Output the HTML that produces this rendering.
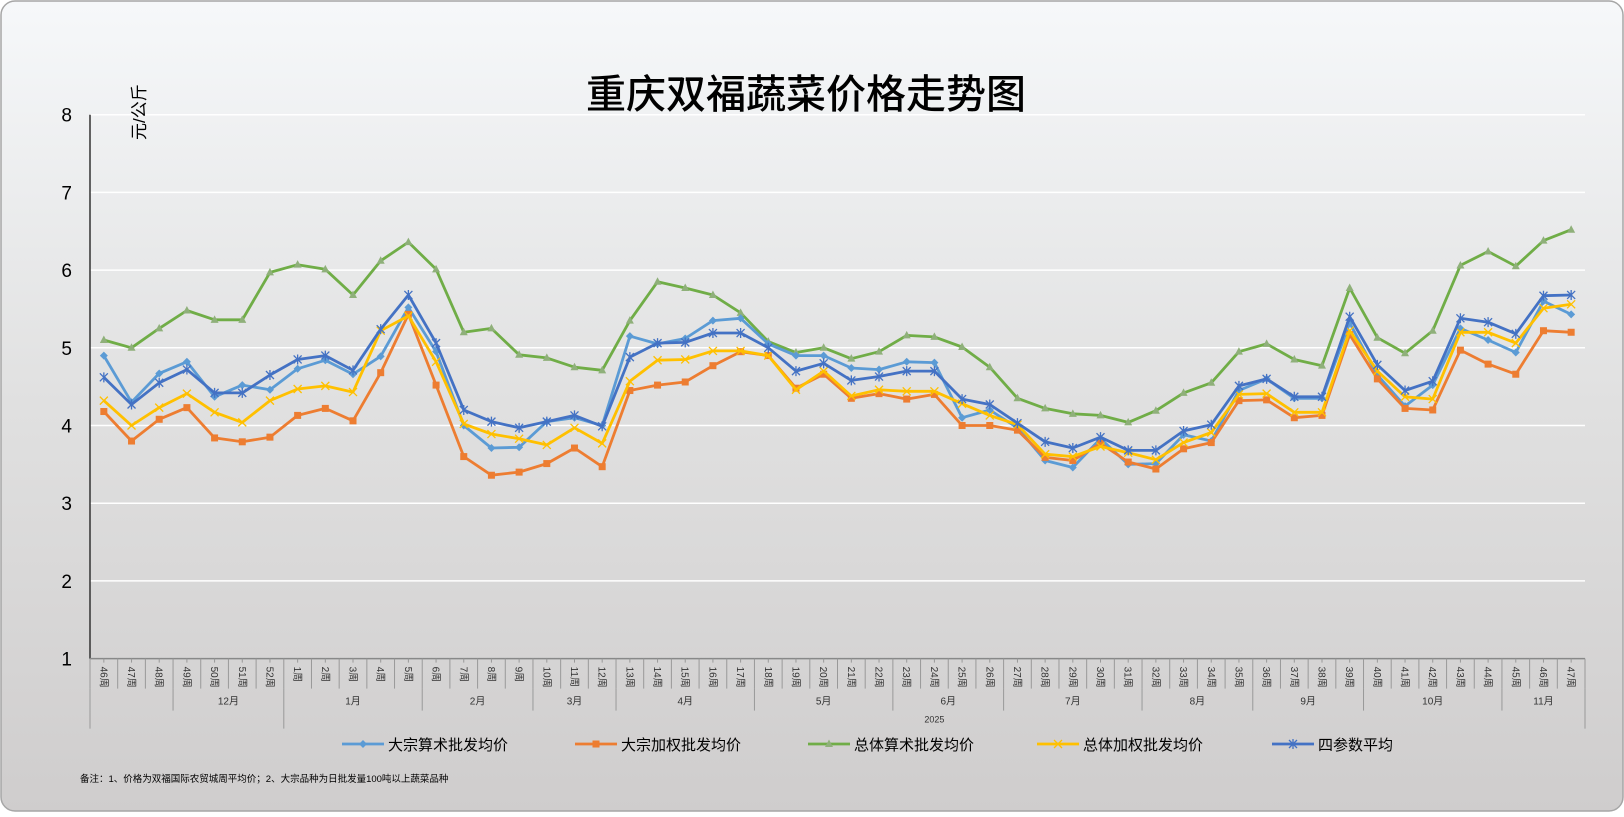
<!DOCTYPE html>
<html><head><meta charset="utf-8"><style>
html,body{margin:0;padding:0;background:#fff;}
body{width:1624px;height:812px;overflow:hidden;}
text{font-family:"Liberation Sans","Noto Sans CJK SC",sans-serif;}
</style></head><body>
<svg id="s" width="1624" height="812" xmlns="http://www.w3.org/2000/svg">
<defs><linearGradient id="bg" x1="0" y1="0" x2="0" y2="1">
<stop offset="0" stop-color="#f6f8fa"/><stop offset="0.5" stop-color="#e0e0e0"/><stop offset="1" stop-color="#cfcdcd"/></linearGradient></defs>
<rect x="1" y="1" width="1622" height="810" rx="14" fill="url(#bg)" stroke="#a6a6a6" stroke-width="1.5"/>
<text x="806" y="108" font-size="40" text-anchor="middle" fill="#000" style="font-family:'Noto Sans CJK SC',sans-serif;font-weight:500">重庆双福蔬菜价格走势图</text>
<g id="g"></g>
</svg>
<script>
var L=90,R=1585,N=54,S=(R-L)/N,Y8=114.7,U=77.7;
function X(i){return L+S*(i+0.5);}function Y(v){return Y8+(8-v)*U;}
var h='';
for(var v=1;v<=8;v++){ if(v>1)h+='<line x1="'+L+'" x2="'+R+'" y1="'+Y(v)+'" y2="'+Y(v)+'" stroke="#fff" stroke-width="1.5"/>';
 h+='<text x="72" y="'+(Y(v)+7)+'" font-size="19" text-anchor="end">'+v+'</text>';}
h+='<line x1="'+L+'" x2="'+L+'" y1="'+Y8+'" y2="'+Y(1)+'" stroke="#333" stroke-width="1.5"/>';
h+='<line x1="'+L+'" x2="'+R+'" y1="'+Y(1)+'" y2="'+Y(1)+'" stroke="#888" stroke-width="1.5"/>';
h+='<text transform="translate(145,140) rotate(-90)" font-size="17">元/公斤</text>';
var wk=[];for(var i=46;i<=52;i++)wk.push(i);for(var i=1;i<=47;i++)wk.push(i);
var ay=Y(1);
for(var i=0;i<=N;i++){var x=L+S*i;h+='<line x1="'+x+'" x2="'+x+'" y1="'+ay+'" y2="'+(ay+30)+'" stroke="#999" stroke-width="1"/>';}
for(var i=0;i<N;i++){h+='<line x1="'+X(i)+'" x2="'+X(i)+'" y1="'+ay+'" y2="'+(ay+4)+'" stroke="#999"/>';
 h+='<text transform="translate('+(X(i)-3.5)+','+(ay+8)+') rotate(90)" font-size="10" fill="#333">'+wk[i]+'周</text>';}
var mb=[0,3,7,12,16,19,24,29,33,38,42,46,51,54],mn=['','12月','1月','2月','3月','4月','5月','6月','7月','8月','9月','10月','11月'];
for(var k=0;k<mb.length;k++){var x=L+S*mb[k];var long=(k==0||k==2||k==13);
 h+='<line x1="'+x+'" x2="'+x+'" y1="'+(ay+30)+'" y2="'+(ay+(long?70:52))+'" stroke="#999"/>';
 if(k<13&&mn[k])h+='<text x="'+(L+S*(mb[k]+mb[k+1])/2)+'" y="'+(ay+46)+'" font-size="10" text-anchor="middle" fill="#333">'+mn[k]+'</text>';}
h+='<text x="'+(L+S*30.5)+'" y="'+(ay+64)+'" font-size="9" text-anchor="middle" fill="#333">2025</text>';
var D={
g:[5.1,5.0,5.25,5.48,5.36,5.36,5.97,6.07,6.01,5.68,6.12,6.36,6.01,5.2,5.25,4.91,4.87,4.75,4.71,5.35,5.85,5.77,5.68,5.45,5.08,4.94,5.0,4.86,4.95,5.16,5.14,5.01,4.75,4.35,4.22,4.15,4.13,4.04,4.19,4.42,4.55,4.95,5.05,4.85,4.77,5.77,5.13,4.93,5.22,6.06,6.24,6.05,6.38,6.52],
lb:[4.9,4.3,4.67,4.82,4.37,4.52,4.46,4.73,4.84,4.66,4.89,5.52,4.95,4.0,3.71,3.72,4.05,4.1,4.0,5.15,5.05,5.12,5.35,5.38,5.05,4.9,4.9,4.74,4.72,4.82,4.81,4.1,4.2,3.97,3.55,3.46,3.83,3.5,3.51,3.88,3.8,4.45,4.6,4.35,4.35,5.32,4.65,4.25,4.52,5.25,5.1,4.94,5.6,5.43],
o:[4.18,3.8,4.08,4.23,3.84,3.79,3.85,4.13,4.22,4.06,4.68,5.43,4.52,3.6,3.36,3.4,3.51,3.71,3.47,4.45,4.52,4.56,4.77,4.95,4.9,4.48,4.66,4.35,4.41,4.34,4.4,4.0,4.0,3.94,3.59,3.55,3.77,3.53,3.44,3.7,3.78,4.32,4.33,4.1,4.13,5.17,4.6,4.22,4.2,4.97,4.79,4.66,5.22,5.2],
y:[4.32,4.0,4.23,4.41,4.17,4.04,4.32,4.47,4.51,4.43,5.22,5.41,4.82,4.02,3.89,3.83,3.75,3.97,3.77,4.57,4.84,4.85,4.96,4.96,4.9,4.46,4.7,4.38,4.46,4.44,4.44,4.28,4.13,4.01,3.63,3.6,3.73,3.65,3.56,3.78,3.91,4.4,4.41,4.17,4.17,5.22,4.7,4.37,4.34,5.2,5.2,5.06,5.51,5.56],
db:[4.62,4.27,4.55,4.72,4.42,4.42,4.65,4.85,4.9,4.71,5.24,5.68,5.06,4.2,4.05,3.97,4.05,4.13,3.99,4.88,5.06,5.07,5.19,5.19,5.0,4.7,4.8,4.58,4.63,4.7,4.7,4.34,4.27,4.03,3.79,3.71,3.85,3.68,3.68,3.93,4.01,4.51,4.6,4.37,4.37,5.4,4.78,4.45,4.57,5.38,5.33,5.18,5.67,5.68]};
function mk(t,x,y,c){if(t=='d')return '<path d="M'+x+','+(y-4)+'L'+(x+4)+','+y+'L'+x+','+(y+4)+'L'+(x-4)+','+y+'Z" fill="'+c+'"/>';
 if(t=='s')return '<rect x="'+(x-3.5)+'" y="'+(y-3.5)+'" width="7" height="7" fill="'+c+'"/>';
 if(t=='t')return '<path d="M'+x+','+(y-4.5)+'L'+(x+4)+','+(y+3)+'L'+(x-4)+','+(y+3)+'Z" fill="#8fb07a"/>';
 if(t=='x')return '<path d="M'+(x-4)+','+(y-4)+'L'+(x+4)+','+(y+4)+'M'+(x+4)+','+(y-4)+'L'+(x-4)+','+(y+4)+'" stroke="'+c+'" stroke-width="1.3"/>';
 return '<path d="M'+(x-4)+','+(y-4)+'L'+(x+4)+','+(y+4)+'M'+(x+4)+','+(y-4)+'L'+(x-4)+','+(y+4)+'M'+x+','+(y-5)+'L'+x+','+(y+5)+'" stroke="'+c+'" stroke-width="1.3"/>';}
var ser=[['g','#70ad47','t'],['lb','#5b9bd5','d'],['o','#ed7d31','s'],['y','#ffc000','x'],['db','#4472c4','a']];
ser.forEach(function(s){var d=D[s[0]],p='';d.forEach(function(v,i){p+=(i?'L':'M')+X(i).toFixed(1)+','+Y(v).toFixed(1);});
 h+='<path d="'+p+'" fill="none" stroke="'+s[1]+'" stroke-width="2.8" stroke-linejoin="round"/>';
 d.forEach(function(v,i){h+=mk(s[2],X(i),Y(v),s[1]);});});
var lg=[['lb','#5b9bd5','d','大宗算术批发均价',342],['o','#ed7d31','s','大宗加权批发均价',575],['g','#70ad47','t','总体算术批发均价',808],['y','#ffc000','x','总体加权批发均价',1037],['db','#4472c4','a','四参数平均',1272]];
lg.forEach(function(l){var x=l[4],y=744;h+='<line x1="'+x+'" x2="'+(x+42)+'" y1="'+y+'" y2="'+y+'" stroke="'+l[1]+'" stroke-width="2.8"/>'+mk(l[2],x+21,y,l[1]);
 h+='<text x="'+(x+46)+'" y="'+(y+6)+'" font-size="15">'+l[3]+'</text>';});
h+='<text x="80" y="782" font-size="9.5">备注：1、价格为双福国际农贸城周平均价；2、大宗品种为日批发量100吨以上蔬菜品种</text>';
document.getElementById('g').innerHTML=h;
</script>
</body></html>
